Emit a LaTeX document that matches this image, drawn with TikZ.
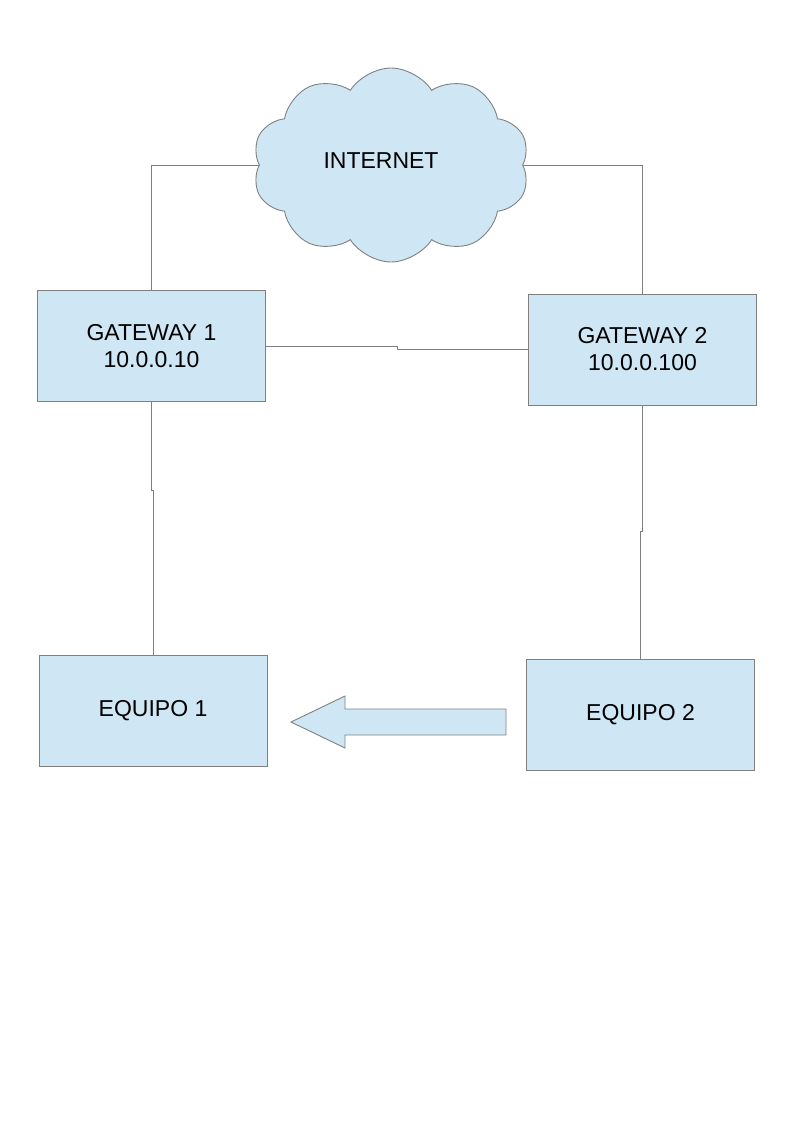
\documentclass[tikz,border=0pt]{standalone}
\usepackage{fontspec}
\setmainfont{Liberation Sans}
\usetikzlibrary{shapes.symbols}
\definecolor{boxblue}{HTML}{CFE7F5}
\definecolor{edgegray}{HTML}{808080}
\begin{document}
\begin{tikzpicture}[x=1pt,y=-1pt]
    \tikzstyle{box}=[rectangle,fill=boxblue,draw=edgegray,line width=0.9pt,inner sep=0pt,
      minimum width=228pt,minimum height=111pt,align=center,font=\fontsize{23}{27}\selectfont]
    \tikzstyle{wire}=[draw=edgegray,line width=0.8pt]
    \useasboundingbox (0,0) rectangle (794,1123);
    \node[cloud,cloud puffs=10,cloud puff arc=115,aspect=1.45,fill=boxblue,draw=edgegray,
      line width=0.9pt,minimum width=277pt,minimum height=194pt,inner sep=0pt] (net) at (391,165){};
    \node[font=\fontsize{23}{27}\selectfont] (netlabel) at (381,161){INTERNET};
    \node[box] (gw1) at (151.5,346){GATEWAY 1\\10.0.0.10};
    \node[box] (gw2) at (642.5,349.5){GATEWAY 2\\10.0.0.100};
    \node[box] (eq1) at (153,710.5){EQUIPO 1};
    \node[box] (eq2) at (640.5,714.5){EQUIPO 2};
    \coordinate (j1) at (397,346);
    \coordinate (j2) at (153,490);
    \coordinate (j3) at (641,531);
    \draw[wire] (gw1.north) |- (net.west);
    \draw[wire] (net.east) -| (gw2.north);
    \draw[wire] (gw1.east) -- (gw1.east -| j1) |- (gw2.west);
    \draw[wire] (gw1.south) -- (gw1.south |- j2) -| (eq1.north);
    \draw[wire] (gw2.south) -- (gw2.south |- j3) -| (eq2.north);
    %\draw (eq2) -- (eq1);
    \filldraw[fill=boxblue,draw=edgegray,line width=0.9pt]
      (506,709) -- (345,709) -- (345,696) -- (291,722) -- (345,748) -- (345,735) -- (506,735) -- cycle;
  \end{tikzpicture}
\end{document}
